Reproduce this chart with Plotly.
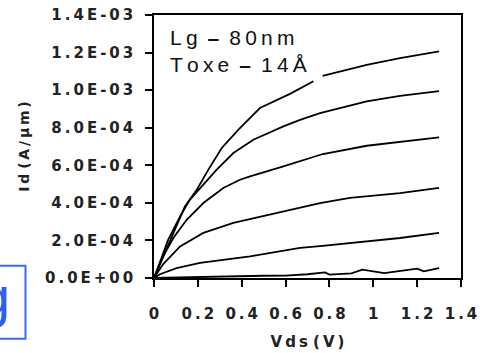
import plotly.graph_objects as go

# ---- data (Id in A/um, Vds in V) ----
vds_1 = [0, 0.042, 0.088, 0.141, 0.195, 0.248, 0.309, 0.384, 0.483, 0.62, 0.727, None, 0.769, 0.87, 0.97, 1.122, 1.3]
id_1 = [0, 0.115, 0.240, 0.381, 0.470, 0.577, 0.692, 0.789, 0.905, 0.98, 1.047, None, 1.076, 1.105, 1.135, 1.171, 1.206]

vds_2 = [0, 0.065, 0.119, 0.164, 0.225, 0.286, 0.362, 0.453, 0.590, 0.666, 0.757, 0.818, 0.970, 1.122, 1.3]
id_2 = [0, 0.204, 0.328, 0.417, 0.497, 0.577, 0.665, 0.736, 0.807, 0.842, 0.878, 0.896, 0.940, 0.970, 0.995]

vds_3 = [0, 0.042, 0.088, 0.149, 0.225, 0.316, 0.392, 0.438, 0.590, 0.77, 0.97, 1.12, 1.3]
id_3 = [0, 0.115, 0.213, 0.310, 0.399, 0.479, 0.523, 0.541, 0.594, 0.660, 0.704, 0.725, 0.748]

vds_4 = [0, 0.042, 0.119, 0.225, 0.362, 0.559, 0.666, 0.757, 0.894, 1.122, 1.3]
id_4 = [0, 0.074, 0.168, 0.240, 0.293, 0.346, 0.372, 0.399, 0.426, 0.452, 0.480]

vds_5 = [0, 0.027, 0.103, 0.210, 0.438, 0.666, 0.757, 0.894, 1.122, 1.3]
id_5 = [0, 0.020, 0.053, 0.080, 0.115, 0.160, 0.170, 0.186, 0.213, 0.240]

vds_6 = [0, 0.1, 0.2, 0.3, 0.4, 0.5, 0.6, 0.7, 0.78, 0.8, 0.9, 0.95, 1.05, 1.15, 1.2, 1.23, 1.3]
id_6 = [0, 0.003, 0.004, 0.006, 0.010, 0.012, 0.013, 0.020, 0.030, 0.018, 0.025, 0.045, 0.026, 0.040, 0.050, 0.035, 0.052]

curves = [(vds_1, id_1), (vds_2, id_2), (vds_3, id_3), (vds_4, id_4), (vds_5, id_5), (vds_6, id_6)]

y_tickvals = [0, 2e-4, 4e-4, 6e-4, 8e-4, 1.0e-3, 1.2e-3, 1.4e-3]
y_ticktext = ["0.0E+00", "2.0E-04", "4.0E-04", "6.0E-04", "8.0E-04", "1.0E-03", "1.2E-03", "1.4E-03"]
x_tickvals = [0, 0.2, 0.4, 0.6, 0.8, 1.0, 1.2, 1.4]
x_ticktext = ["0", "0.2", "0.4", "0.6", "0.8", "1", "1.2", "1.4"]

TS = "\u2009"  # thin space used as letter spacing
NB = "\u00a0"


def spaced(s):
    return TS.join(list(s))


fig = go.Figure()
for vx, iy in curves:
    fig.add_trace(go.Scatter(
        x=vx, y=[None if v is None else v * 1e-3 for v in iy],
        mode="lines", line=dict(color="black", width=1.8),
        connectgaps=False, showlegend=False, hoverinfo="skip"))

FONT = "DejaVu Sans"
tickfont = dict(family=FONT, size=15, color="#222222")

fig.update_layout(
    width=487, height=353,
    margin=dict(l=154, r=26, t=15, b=75),
    paper_bgcolor="white", plot_bgcolor="white",
    font=dict(family=FONT, color="#222222"),
)
fig.update_xaxes(
    range=[0, 1.4], tickvals=x_tickvals, ticktext=["<b>" + spaced(t) + "</b>" for t in x_ticktext],
    tickfont=tickfont, ticks="outside", ticklen=7, tickwidth=1.5, tickcolor="black",
    showline=True, linecolor="black", linewidth=1.5, mirror=True, showgrid=False, zeroline=False,
    ticklabelstandoff=14, automargin=False,
    title=dict(text="<b>" + spaced("Vds") + NB + spaced("(V)") + "</b>",
               font=dict(size=15, family=FONT), standoff=15),
)
fig.update_yaxes(
    range=[0, 1.4e-3], tickvals=y_tickvals, ticktext=["<b>" + spaced(t) + "</b>" for t in y_ticktext],
    tickfont=tickfont, ticks="outside", ticklen=7, tickwidth=1.5, tickcolor="black",
    showline=True, linecolor="black", linewidth=1.5, mirror=True, showgrid=False, zeroline=False,
    ticklabelstandoff=9, automargin=False,
    title=dict(text="<b>" + spaced("Id") + " " + spaced("(A/µm)") + "</b>",
               font=dict(size=14, family=FONT), standoff=12),
)

line1 = spaced("Lg") + NB + TS + "<b>–</b>" + NB + TS + spaced("80nm")
line2 = spaced("Toxe") + NB + TS + "<b>–</b>" + NB + TS + spaced("14Å")
fig.add_annotation(
    xref="paper", yref="paper", x=0.045, y=0.966, xanchor="left", yanchor="top",
    text=line1 + "<br>" + line2,
    showarrow=False, align="left",
    font=dict(family="Liberation Sans, Arial", size=21, color="#111111"),
)

# partial blue box at the bottom-left edge
fig.add_shape(type="rect", xref="paper", yref="paper",
              x0=-0.56, x1=-0.4186, y0=-0.2308, y1=0.0468,
              line=dict(color="#3a66ff", width=2), fillcolor="rgba(0,0,0,0)")
fig.add_annotation(
    xref="paper", yref="paper", x=-0.464, y=0.056, xanchor="right", yanchor="top",
    text="g", showarrow=False,
    font=dict(family="Liberation Sans, Arial", size=56, color="#2f5bff"),
)

fig.write_html("out.html", config={"displayModeBar": False},
               post_script="document.body.style.margin='0';")
